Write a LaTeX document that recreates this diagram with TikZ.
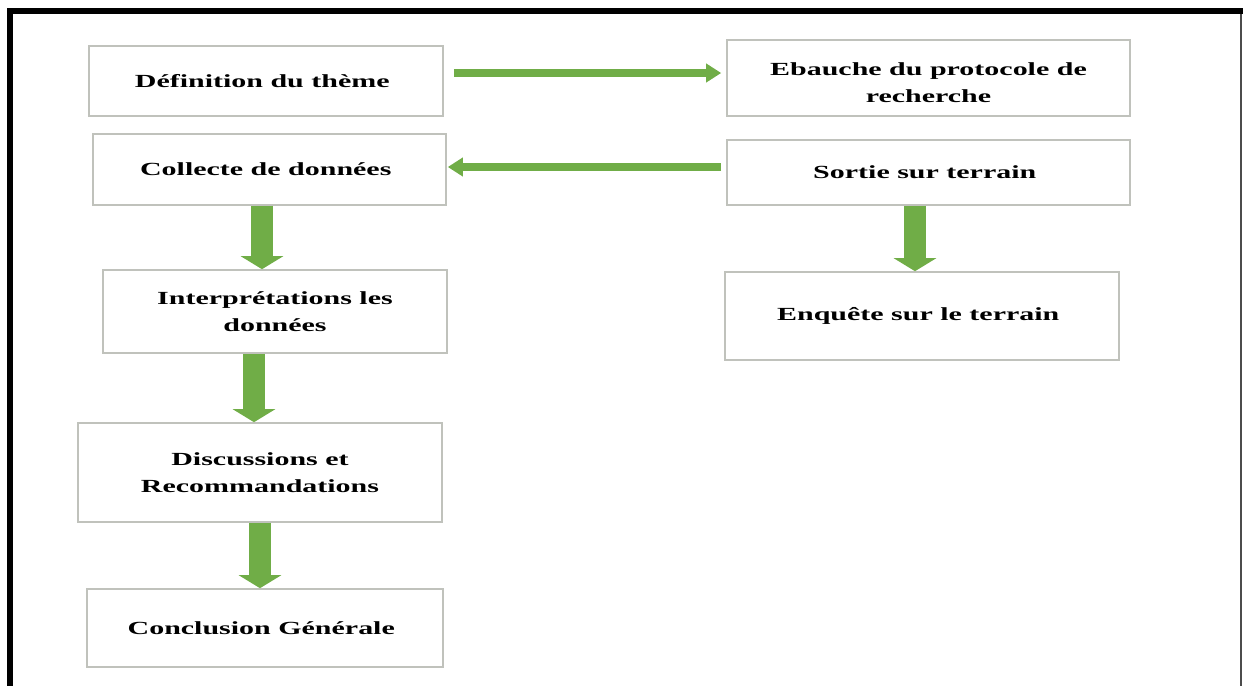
\documentclass[tikz,border=0pt]{standalone}
\usepackage{fontspec}
\setmainfont{Liberation Serif}[FakeStretch=1.62]
\usetikzlibrary{arrows.meta,positioning}
\usepackage{xcolor}
\definecolor{stepgreen}{RGB}{112,173,71}
\definecolor{boxgrey}{RGB}{192,194,188}

\begin{document}
\begin{tikzpicture}[x=1pt, y=-1pt,
    every node/.style={
    rectangle,
    draw=boxgrey,
    line width=1.6pt,
    fill=white,
    align=center,
    font=\fontsize{18.5}{27}\selectfont\bfseries
},
    fat/.style={-{Triangle[width=42pt, length=13pt]}, stepgreen, line width=22pt},
    thin/.style={-{Triangle[width=18pt, length=15pt]}, stepgreen, line width=8pt}
]
    \useasboundingbox (0,0) rectangle (1243,686);
    % cadre
    \fill[black] (7,8) rectangle (13,686);
    \fill[black] (7,8) rectangle (1243,14);
    \draw[black!70, line width=1.5pt] (1241,14) -- (1241,686);

    \node (definition_theme) [minimum width=354pt, minimum height=70pt, shift={(266, 81)}]
    {
        Définition du thème
    };
    \node (ebauche_protocole) [minimum width=403pt, minimum height=76pt, shift={(928.5, 78)}]
    {
        \rule{0pt}{22pt}Ebauche du protocole de\\recherche
    };
    \node (collecte_donnees) [minimum width=353pt, minimum height=71pt, shift={(269.5, 169.5)}]
    {
        Collecte de données
    };
    \node (sortie_terrain) [minimum width=403pt, minimum height=65pt, shift={(928.5, 172.5)}]
    {
        Sortie sur terrain
    };
    \node (interpretations) [minimum width=344pt, minimum height=83pt, shift={(275, 311.5)}]
    {
        Interprétations les\\données
    };
    \node (enquete_terrain) [minimum width=394pt, minimum height=88pt, shift={(922, 316)}]
    {
        Enquête sur le terrain
    };
    \node (discussions) [minimum width=364pt, minimum height=99pt, shift={(260, 472.5)}]
    {
        Discussions et\\Recommandations
    };
    \node (conclusion) [minimum width=356pt, minimum height=78pt, shift={(265, 628)}]
    {
        Conclusion Générale
    };
    \draw[thin, shorten <=10pt, shorten >=5pt] ([yshift=8pt]definition_theme.east) to ([yshift=8pt]definition_theme.east -| ebauche_protocole.west);
    \draw[thin, shorten <=5pt, shorten >=1pt] ([yshift=5.5pt]sortie_terrain.west) to ([yshift=5.5pt]sortie_terrain.west -| collecte_donnees.east);
    \draw[fat] ([xshift=-7.5pt]collecte_donnees.south) to ([xshift=-7.5pt]collecte_donnees.south |- interpretations.north);
    \draw[fat] ([xshift=-21pt]interpretations.south) to ([xshift=-21pt]interpretations.south |- discussions.north);
    \draw[fat] (discussions.south) to (discussions.south |- conclusion.north);
    \draw[fat] ([xshift=-13.5pt]sortie_terrain.south) to ([xshift=-13.5pt]sortie_terrain.south |- enquete_terrain.north);
\end{tikzpicture}
\end{document}
